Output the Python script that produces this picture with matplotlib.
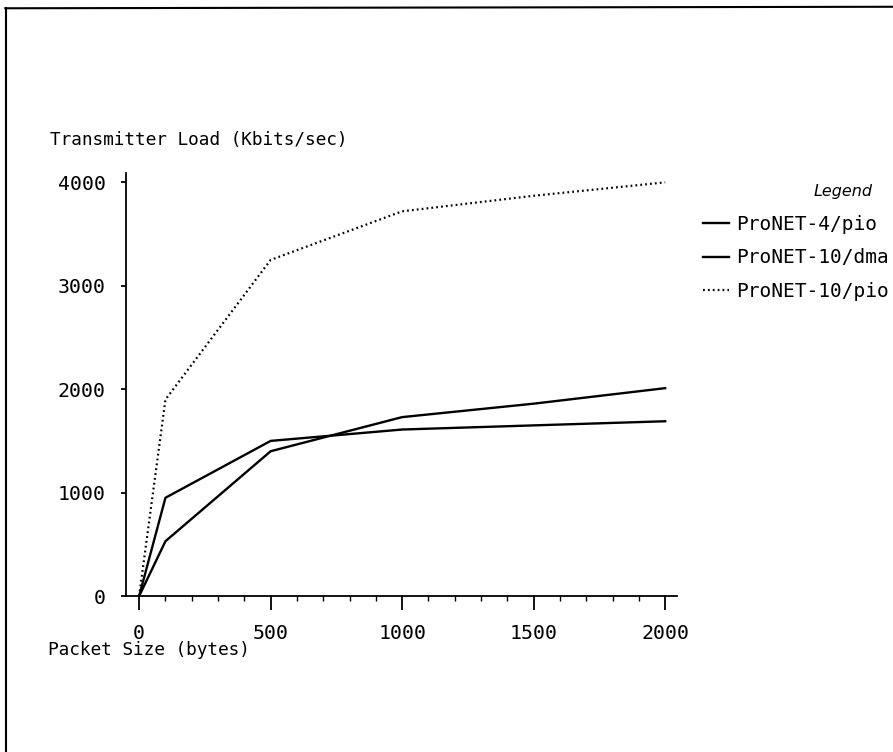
import matplotlib
matplotlib.use('Agg')
from matplotlib import pyplot as plt
from matplotlib.lines import Line2D
from matplotlib.ticker import MultipleLocator

# packet size (bytes) vs transmitter load (Kbits/sec)
sizes = [0, 100, 500, 1000, 1500, 2000]
pronet4_pio = [0, 950, 1500, 1610, 1650, 1690]
pronet10_dma = [0, 530, 1400, 1730, 1860, 2010]
pronet10_pio = [0, 1900, 3250, 3720, 3870, 4000]

series_labels = ['ProNET-4/pio', 'ProNET-10/dma', 'ProNET-10/pio']
y_ticks = [0, 1000, 2000, 3000, 4000]
x_ticks = [0, 500, 1000, 1500, 2000]

plt.rcParams['font.family'] = ['DejaVu Sans Mono']

fig = plt.figure(figsize=(8.93, 7.52), dpi=100)
ax = fig.add_axes([0.1411, 0.2074, 0.617, 0.5625])

ax.plot(sizes, pronet4_pio, color='black', linewidth=1.7, label=series_labels[0])
ax.plot(sizes, pronet10_dma, color='black', linewidth=1.7, label=series_labels[1])
ax.plot(sizes, pronet10_pio, color='black', linewidth=1.6, linestyle=(0, (0.8, 1.4)),
        label=series_labels[2])

ax.set_xlim(-50, 2045)
ax.set_ylim(0, 4090)

for s in ['top', 'right']:
    ax.spines[s].set_visible(False)
for s in ['left', 'bottom']:
    ax.spines[s].set_linewidth(1.3)

ax.set_xticks(x_ticks)
ax.set_yticks(y_ticks)
ax.xaxis.set_minor_locator(MultipleLocator(100))
ax.tick_params(axis='x', which='major', direction='out', length=10, width=1.3,
               labelsize=14.3, pad=10)
ax.tick_params(axis='x', which='minor', direction='out', length=3.6, width=1.0)
ax.tick_params(axis='y', which='major', direction='out', length=3.6, width=1.3,
               labelsize=14.3, pad=11)

fig.text(0.056, 0.814, 'Transmitter Load (Kbits/sec)', fontsize=12.8, va='center', ha='left')
fig.text(0.054, 0.136, 'Packet Size (bytes)', fontsize=12.8, va='center', ha='left')

leg = ax.legend(loc='upper left', bbox_to_anchor=(1.033, 0.92), frameon=False,
                fontsize=14, handlelength=1.33, handletextpad=0.36,
                labelspacing=0.76, borderaxespad=0)
fig.text(0.944, 0.745, 'Legend', fontsize=11.5, fontstyle='italic',
         family=['DejaVu Sans'], ha='center', va='center')

# page frame (top and left edges of the scanned figure border)
fig.add_artist(Line2D([0.006, 1.0], [0.989, 0.991], transform=fig.transFigure,
                      color='black', linewidth=1.5))
fig.add_artist(Line2D([0.007, 0.007], [0.0, 0.989], transform=fig.transFigure,
                      color='black', linewidth=1.5))

fig.savefig('out.png', dpi=100)
